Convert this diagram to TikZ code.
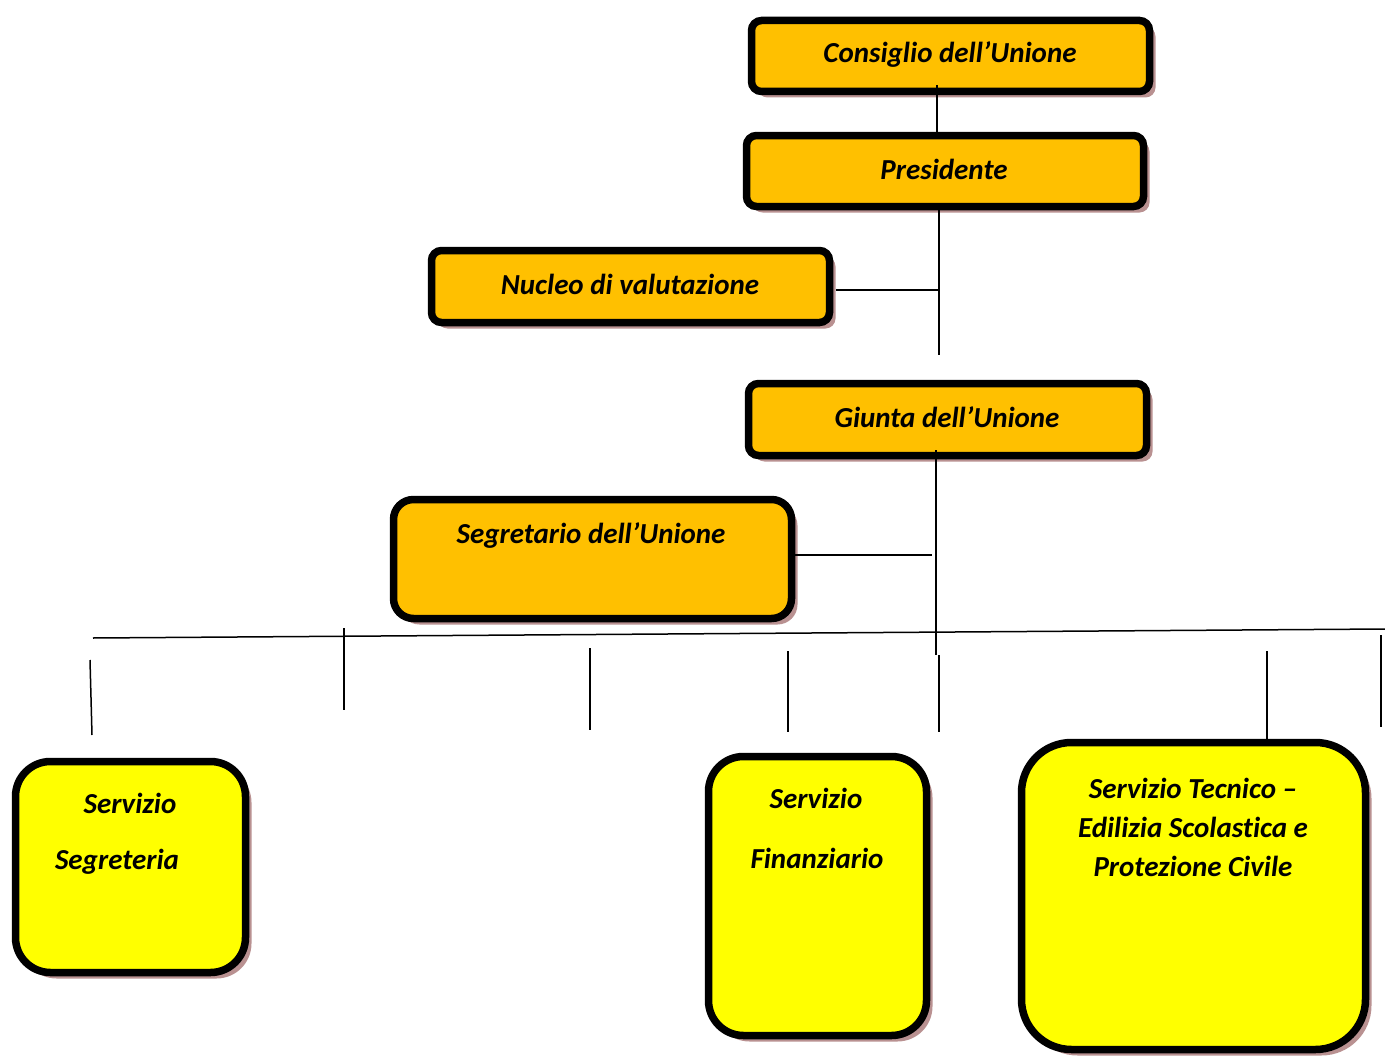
\documentclass[tikz,border=0pt]{standalone}
\usepackage{fontspec}
\setmainfont{Carlito}[Ligatures=NoCommon]
\usetikzlibrary{shadows}
\definecolor{orangefill}{RGB}{255,192,0}
\definecolor{yellowfill}{RGB}{255,255,0}
\definecolor{shadowc}{RGB}{185,145,145}
\tikzset{
  box/.style={draw=black, line width=7.5pt, inner sep=0pt,
    drop shadow={shadow xshift=6pt, shadow yshift=-6pt, fill=shadowc, opacity=1}},
  obox/.style={box, fill=orangefill, rounded corners=10pt},
  ybox/.style={box, fill=yellowfill},
  lbl/.style={font=\fontsize{29}{34}\selectfont\bfseries\itshape, inner sep=0pt, align=center},
  conn/.style={line width=1.5pt, draw=black}
}
\begin{document}
\begin{tikzpicture}[x=1pt,y=-1pt]
\useasboundingbox (0,0) rectangle (1385,1057);
% boxes
\node[obox, minimum width=398pt, minimum height=71pt] (cons) at (950.5,56) {};
\node[obox, minimum width=397pt, minimum height=71pt] (pres) at (945,171) {};
\node[obox, minimum width=398pt, minimum height=72pt] (nuc) at (630.5,286.5) {};
\node[obox, minimum width=398pt, minimum height=72pt] (giu) at (947.5,419.5) {};
\node[obox, rounded corners=20pt, minimum width=398pt, minimum height=119pt] (seg) at (592.5,559) {};
\node[ybox, rounded corners=35pt, minimum width=230pt, minimum height=211pt] (sgr) at (130.5,867) {};
\node[ybox, rounded corners=35pt, minimum width=218pt, minimum height=279pt] (fin) at (817.5,896) {};
\node[ybox, rounded corners=50pt, minimum width=344pt, minimum height=307pt] (tec) at (1193.5,896) {};
% texts
\node[lbl] (tcons) at (950,54) {Consiglio dell’Unione};
\node[lbl] (tpres) at (944,169) {Presidente};
\node[lbl] (tnuc) at (630,284) {Nucleo di valutazione};
\node[lbl] (tgiu) at (947,417) {Giunta dell’Unione};
\node[lbl] (tseg) at (591,535) {Segretario dell’Unione};
\node[lbl] (tsgr1) at (130,803) {Servizio};
\node[lbl] (tsgr2) at (117,862) {Segreteria};
\node[lbl] (tfin1) at (816,798) {Servizio};
\node[lbl] (tfin2) at (817,858) {Finanziario};
\node[lbl] (ttec1) at (1193,788) {Servizio Tecnico –};
\node[lbl] (ttec2) at (1193,827) {Edilizia Scolastica e};
\node[lbl] (ttec3) at (1193,866) {Protezione Civile};
% connector coordinates
\coordinate (c1) at (937,85);
\coordinate (c2) at (937,132);
\coordinate (p1) at (939,210);
\coordinate (p2) at (939,355);
\coordinate (n1) at (836,290);
\coordinate (n2) at (939,290);
\coordinate (g1) at (936,450);
\coordinate (g2) at (936,655);
\coordinate (s1) at (788,555);
\coordinate (s2) at (932,555);
\coordinate (hl) at (93,638);
\coordinate (hr) at (1385,629);
\coordinate (d1a) at (90,660);   \coordinate (d1b) at (92,735);
\coordinate (d2a) at (344,628);  \coordinate (d2b) at (344,710);
\coordinate (d3a) at (590,648);  \coordinate (d3b) at (590,730);
\coordinate (d4a) at (788,651);  \coordinate (d4b) at (788,732);
\coordinate (d5a) at (939,655);  \coordinate (d5b) at (939,732);
\coordinate (d6a) at (1267,651); \coordinate (d6b) at (1267,746);
\coordinate (d7a) at (1381,635); \coordinate (d7b) at (1381,727);
% connectors
\draw[conn] (c1) -- (c2);
\draw[conn] (p1) -- (p2);
\draw[conn] (n1) -- (n2);
\draw[conn] (g1) -- (g2);
\draw[conn] (s1) -- (s2);
\draw[conn] (hl) -- (hr);
\draw[conn] (d1a) -- (d1b);
\draw[conn] (d2a) -- (d2b);
\draw[conn] (d3a) -- (d3b);
\draw[conn] (d4a) -- (d4b);
\draw[conn] (d5a) -- (d5b);
\draw[conn] (d6a) -- (d6b);
\draw[conn] (d7a) -- (d7b);
\end{tikzpicture}
\end{document}
